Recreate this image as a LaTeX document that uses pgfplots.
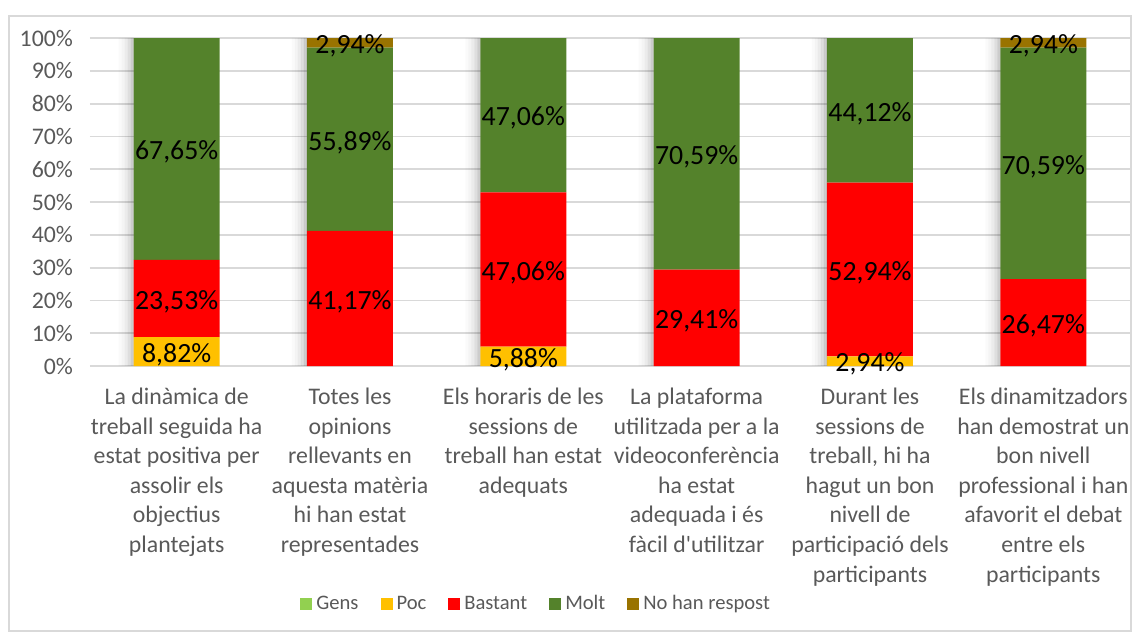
\documentclass[border=0pt]{standalone}
\usepackage{pgfplots}
\pgfplotsset{compat=1.18}
\usepackage{pgfplotstable}
\usepackage{fontspec}
\setmainfont{Carlito}

\definecolor{cGens}{RGB}{146,208,80}
\definecolor{cPoc}{RGB}{255,192,0}
\definecolor{cBastant}{RGB}{255,0,0}
\definecolor{cMolt}{RGB}{84,130,43}
\definecolor{cNR}{RGB}{153,115,0}
\definecolor{txtgray}{RGB}{89,89,89}
\definecolor{gridgray}{RGB}{217,217,217}

\pgfplotstableread{
x gens poc bastant molt nr
0 0 8.82 23.53 67.65 0
1 0 0 41.17 55.89 2.94
2 0 5.88 47.06 47.06 0
3 0 0 29.41 70.59 0
4 0 2.94 52.94 44.12 0
5 0 0 26.47 70.59 2.94
}\dades

\begin{document}
\begin{tikzpicture}
\useasboundingbox (-45pt,-133pt) rectangle (521pt,183pt);
\draw[gridgray, line width=0.6pt] (-40.5pt,-132.5pt) rectangle (520.5pt,175pt);
\begin{axis}[
  at={(0,0)}, anchor=south west,
  scale only axis, width=520pt, height=164pt,
  ybar stacked, bar width=43pt,
  xmin=-0.5, xmax=5.5, ymin=0, ymax=100,
  enlargelimits=false,
  axis line style={draw=none},
  major tick length=0pt,
  ymajorgrids, grid style={gridgray, line width=0.9pt},
  ytick={0,10,...,100},
  yticklabel={\pgfmathprintnumber{\tick}\%},
  yticklabel style={text=txtgray, font=\fontsize{11.9}{14}\selectfont, xshift=-5pt},
  /pgf/number format/assume math mode=true,
  xtick={0,...,5},
  xticklabels={
    {La dinàmica de\\treball seguida ha\\estat positiva per\\assolir els\\objectius\\plantejats},
    {Totes les\\opinions\\rellevants en\\aquesta matèria\\hi han estat\\representades},
    {Els horaris de les\\sessions de\\treball han estat\\adequats},
    {La plataforma\\utilitzada per a la\\videoconferència\\ha estat\\adequada i és\\fàcil d\textquotesingle utilitzar},
    {Durant les\\sessions de\\treball, hi ha\\hagut un bon\\nivell de\\participació dels\\participants},
    {Els dinamitzadors\\han demostrat un\\bon nivell\\professional i han\\afavorit el debat\\entre els\\participants}},
  xticklabel style={text=txtgray, font=\fontsize{11.9}{14.8}\selectfont, align=center, anchor=north, yshift=-7.5pt},
  nodes near coords={\pgfmathfloatifflags{\pgfplotspointmeta}{0}{}{\pgfmathprintnumber[fixed,fixed zerofill,precision=2,use comma]{\pgfplotspointmeta}\%}},
  every node near coord/.append style={anchor=center, text=black, font=\fontsize{13.9}{16}\selectfont, yshift=-1.5pt},
  point meta=explicit,
  legend style={at={(0.43,-0.7256)}, anchor=center, legend columns=-1, draw=none, fill=none,
    font=\fontsize{10.3}{12}\selectfont, text=txtgray,
    /tikz/every even column/.append style={column sep=9pt}},
  legend image code/.code={\fill[#1] (0pt,-3pt) rectangle (6pt,3pt);},
]
\addplot[fill=cGens, draw=none] table[x=x, y=gens, meta=gens]{\dades};
\addplot[fill=cPoc, draw=none] table[x=x, y=poc, meta=poc]{\dades};
\addplot[fill=cBastant, draw=none] table[x=x, y=bastant, meta=bastant]{\dades};
\addplot[fill=cMolt, draw=none] table[x=x, y=molt, meta=molt]{\dades};
\addplot[fill=cNR, draw=none] table[x=x, y=nr, meta=nr]{\dades};
\legend{Gens,Poc,Bastant,Molt,No han respost}
\end{axis}
% soft shadow on the left side of each bar, in thin strips
\begin{axis}[
  at={(0,0)}, anchor=south west,
  scale only axis, width=520pt, height=164pt,
  xmin=-0.5, xmax=5.5, ymin=0, ymax=100,
  enlargelimits=false, hide axis,
  ybar, bar width=1.55pt,
  every axis plot/.append style={draw=none, fill=black},
]
\addplot[bar shift=-22.25pt, fill opacity=0.20]
  table[x=x, y expr=\thisrow{gens}+\thisrow{poc}+\thisrow{bastant}+\thisrow{molt}+\thisrow{nr}]{\dades};
\addplot[bar shift=-23.75pt, fill opacity=0.13]
  table[x=x, y expr=\thisrow{gens}+\thisrow{poc}+\thisrow{bastant}+\thisrow{molt}+\thisrow{nr}]{\dades};
\addplot[bar shift=-25.25pt, fill opacity=0.08]
  table[x=x, y expr=\thisrow{gens}+\thisrow{poc}+\thisrow{bastant}+\thisrow{molt}+\thisrow{nr}]{\dades};
\addplot[bar shift=-26.75pt, fill opacity=0.045]
  table[x=x, y expr=\thisrow{gens}+\thisrow{poc}+\thisrow{bastant}+\thisrow{molt}+\thisrow{nr}]{\dades};
\addplot[bar shift=-28.25pt, fill opacity=0.02]
  table[x=x, y expr=\thisrow{gens}+\thisrow{poc}+\thisrow{bastant}+\thisrow{molt}+\thisrow{nr}]{\dades};
\end{axis}
\end{tikzpicture}
\end{document}
